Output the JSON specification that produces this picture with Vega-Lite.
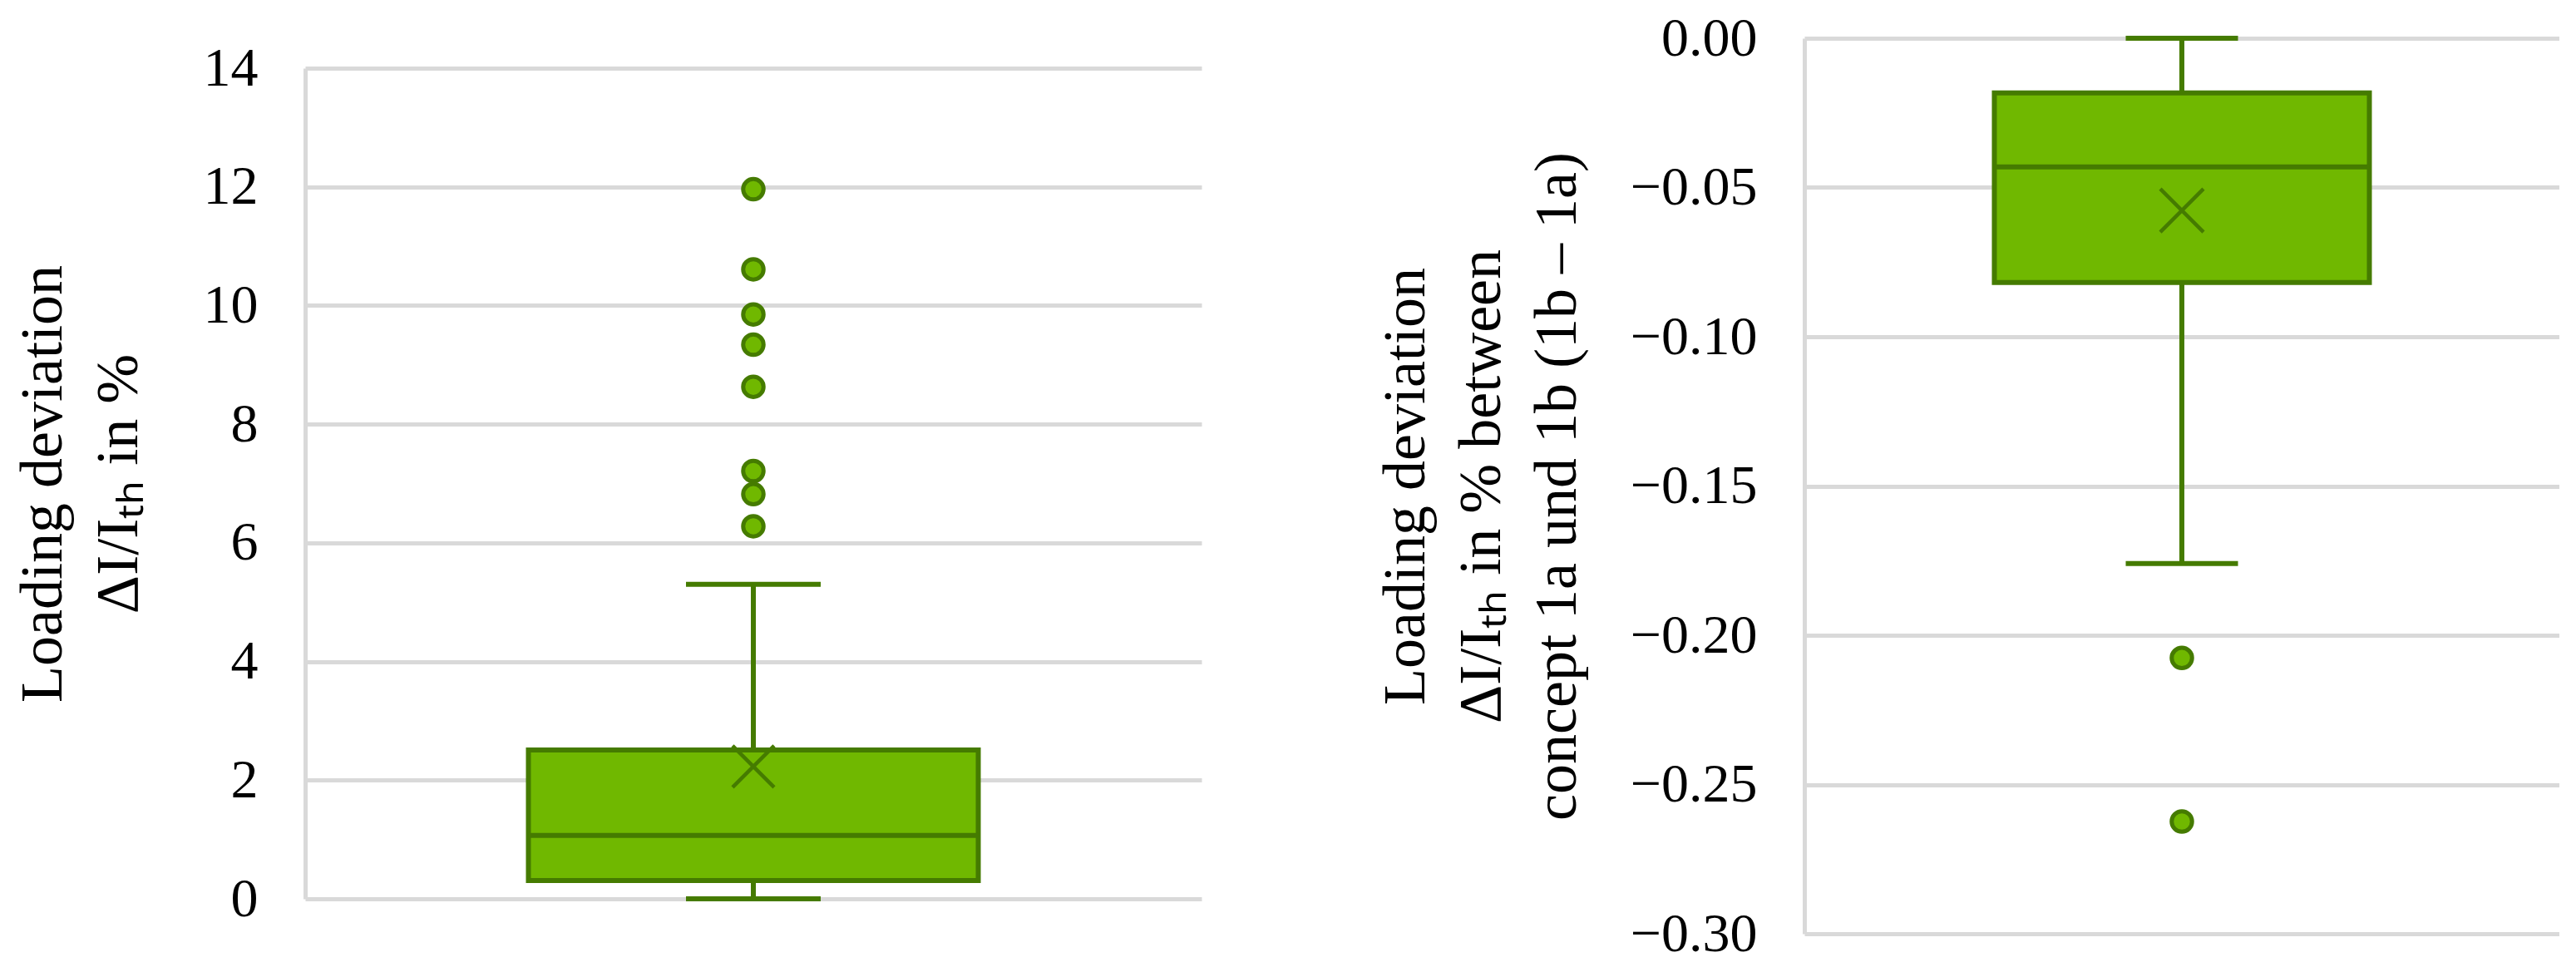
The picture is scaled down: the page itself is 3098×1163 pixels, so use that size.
{
  "$schema": "https://vega.github.io/schema/vega-lite/v6.json",
  "padding": {"left": 15, "top": 13, "right": 0, "bottom": 0},
  "autosize": {"type": "pad"},
  "background": "white",
  "spacing": 209,
  "config": {
    "view": {"stroke": null},
    "font": "Liberation Serif",
    "axis": {
      "labelFont": "Liberation Serif",
      "titleFont": "Liberation Serif",
      "labelColor": "#000000",
      "titleColor": "#000000",
      "labelFontSize": 66,
      "titleFontSize": 72,
      "titleFontWeight": "normal",
      "titleLineHeight": 91,
      "grid": true,
      "gridColor": "#D9D9D9",
      "gridWidth": 5,
      "domainColor": "#D9D9D9",
      "domainWidth": 5,
      "ticks": false,
      "tickSize": 0,
      "labelPadding": 57
    }
  },
  "datasets": {
    "leftBox": [
      {"panel": "A", "lower": 0.0, "q1": 0.31, "median": 1.07, "q3": 2.51, "upper": 5.30, "mean": 2.23}
    ],
    "leftOut": [
      {"panel": "A", "value": 11.96},
      {"panel": "A", "value": 10.61},
      {"panel": "A", "value": 9.85},
      {"panel": "A", "value": 9.34},
      {"panel": "A", "value": 8.63},
      {"panel": "A", "value": 7.21},
      {"panel": "A", "value": 6.82},
      {"panel": "A", "value": 6.28}
    ],
    "rightBox": [
      {"panel": "B", "lower": -0.176, "q1": -0.0818, "median": -0.0431, "q3": -0.0183, "upper": 0.0, "mean": -0.0577}
    ],
    "rightOut": [
      {"panel": "B", "value": -0.2076},
      {"panel": "B", "value": -0.2624}
    ],
    "empty": []
  },
  "hconcat": [
    {
      "bounds": "flush",
      "spacing": 0,
      "vconcat": [
        {
          "width": 1078,
          "height": 36,
          "data": {"name": "empty"},
          "mark": {"type": "rect", "opacity": 0},
          "encoding": {}
        },
        {
          "width": 1078,
          "height": 999,
          "layer": [
            {
              "data": {"name": "leftBox"},
              "mark": {"type": "rule", "color": "#457B00", "strokeWidth": 6},
              "encoding": {
                "x": {"field": "panel", "type": "nominal", "axis": null},
                "y": {
                  "field": "lower", "type": "quantitative",
                  "scale": {"domain": [0, 14], "nice": false, "zero": false},
                  "axis": {
                    "values": [0, 2, 4, 6, 8, 10, 12, 14],
                    "format": "d",
                    "titlePadding": 65,
                    "title": ["Loading deviation", "ΔI/Iₜₕ in %"]
                  }
                },
                "y2": {"field": "upper"}
              }
            },
            {
              "data": {"name": "leftBox"},
              "mark": {"type": "tick", "color": "#457B00", "thickness": 6, "size": 162, "opacity": 1},
              "encoding": {
                "x": {"field": "panel", "type": "nominal"},
                "y": {"field": "lower", "type": "quantitative"}
              }
            },
            {
              "data": {"name": "leftBox"},
              "mark": {"type": "tick", "color": "#457B00", "thickness": 6, "size": 162, "opacity": 1},
              "encoding": {
                "x": {"field": "panel", "type": "nominal"},
                "y": {"field": "upper", "type": "quantitative"}
              }
            },
            {
              "data": {"name": "leftBox"},
              "mark": {"type": "bar", "fill": "#70B800", "stroke": "#457B00", "strokeWidth": 6, "size": 541},
              "encoding": {
                "x": {"field": "panel", "type": "nominal"},
                "y": {"field": "q1", "type": "quantitative"},
                "y2": {"field": "q3"}
              }
            },
            {
              "data": {"name": "leftBox"},
              "mark": {"type": "tick", "color": "#457B00", "thickness": 6, "size": 541, "opacity": 1},
              "encoding": {
                "x": {"field": "panel", "type": "nominal"},
                "y": {"field": "median", "type": "quantitative"}
              }
            },
            {
              "data": {"name": "leftBox"},
              "mark": {"type": "point", "shape": "M-1,-1L1,1M-1,1L1,-1", "filled": false, "stroke": "#457B00", "strokeWidth": 4.5, "size": 2500, "opacity": 1},
              "encoding": {
                "x": {"field": "panel", "type": "nominal"},
                "y": {"field": "mean", "type": "quantitative"}
              }
            },
            {
              "data": {"name": "leftOut"},
              "mark": {"type": "point", "shape": "circle", "filled": true, "fill": "#70B800", "stroke": "#457B00", "strokeWidth": 5, "size": 600, "opacity": 1},
              "encoding": {
                "x": {"field": "panel", "type": "nominal"},
                "y": {"field": "value", "type": "quantitative"}
              }
            }
          ]
        }
      ]
    },
    {
      "width": 908,
      "height": 1077,
      "layer": [
        {
          "data": {"name": "rightBox"},
          "mark": {"type": "rule", "color": "#457B00", "strokeWidth": 6},
          "encoding": {
            "x": {"field": "panel", "type": "nominal", "axis": null},
            "y": {
              "field": "lower", "type": "quantitative",
              "scale": {"domain": [-0.3, 0], "nice": false, "zero": false},
              "axis": {
                "values": [-0.3, -0.25, -0.2, -0.15, -0.1, -0.05, 0],
                "format": ".2f",
                "titlePadding": 61,
                "title": ["Loading deviation", "ΔI/Iₜₕ in % between", "concept 1a und 1b (1b – 1a)"]
              }
            },
            "y2": {"field": "upper"}
          }
        },
        {
          "data": {"name": "rightBox"},
          "mark": {"type": "tick", "color": "#457B00", "thickness": 6, "size": 135, "opacity": 1},
          "encoding": {
            "x": {"field": "panel", "type": "nominal"},
            "y": {"field": "lower", "type": "quantitative"}
          }
        },
        {
          "data": {"name": "rightBox"},
          "mark": {"type": "tick", "color": "#457B00", "thickness": 6, "size": 135, "opacity": 1},
          "encoding": {
            "x": {"field": "panel", "type": "nominal"},
            "y": {"field": "upper", "type": "quantitative"}
          }
        },
        {
          "data": {"name": "rightBox"},
          "mark": {"type": "bar", "fill": "#70B800", "stroke": "#457B00", "strokeWidth": 6, "size": 451},
          "encoding": {
            "x": {"field": "panel", "type": "nominal"},
            "y": {"field": "q1", "type": "quantitative"},
            "y2": {"field": "q3"}
          }
        },
        {
          "data": {"name": "rightBox"},
          "mark": {"type": "tick", "color": "#457B00", "thickness": 6, "size": 451, "opacity": 1},
          "encoding": {
            "x": {"field": "panel", "type": "nominal"},
            "y": {"field": "median", "type": "quantitative"}
          }
        },
        {
          "data": {"name": "rightBox"},
          "mark": {"type": "point", "shape": "M-1,-1L1,1M-1,1L1,-1", "filled": false, "stroke": "#457B00", "strokeWidth": 4.5, "size": 2700, "opacity": 1},
          "encoding": {
            "x": {"field": "panel", "type": "nominal"},
            "y": {"field": "mean", "type": "quantitative"}
          }
        },
        {
          "data": {"name": "rightOut"},
          "mark": {"type": "point", "shape": "circle", "filled": true, "fill": "#70B800", "stroke": "#457B00", "strokeWidth": 5, "size": 600, "opacity": 1},
          "encoding": {
            "x": {"field": "panel", "type": "nominal"},
            "y": {"field": "value", "type": "quantitative"}
          }
        }
      ]
    }
  ]
}
